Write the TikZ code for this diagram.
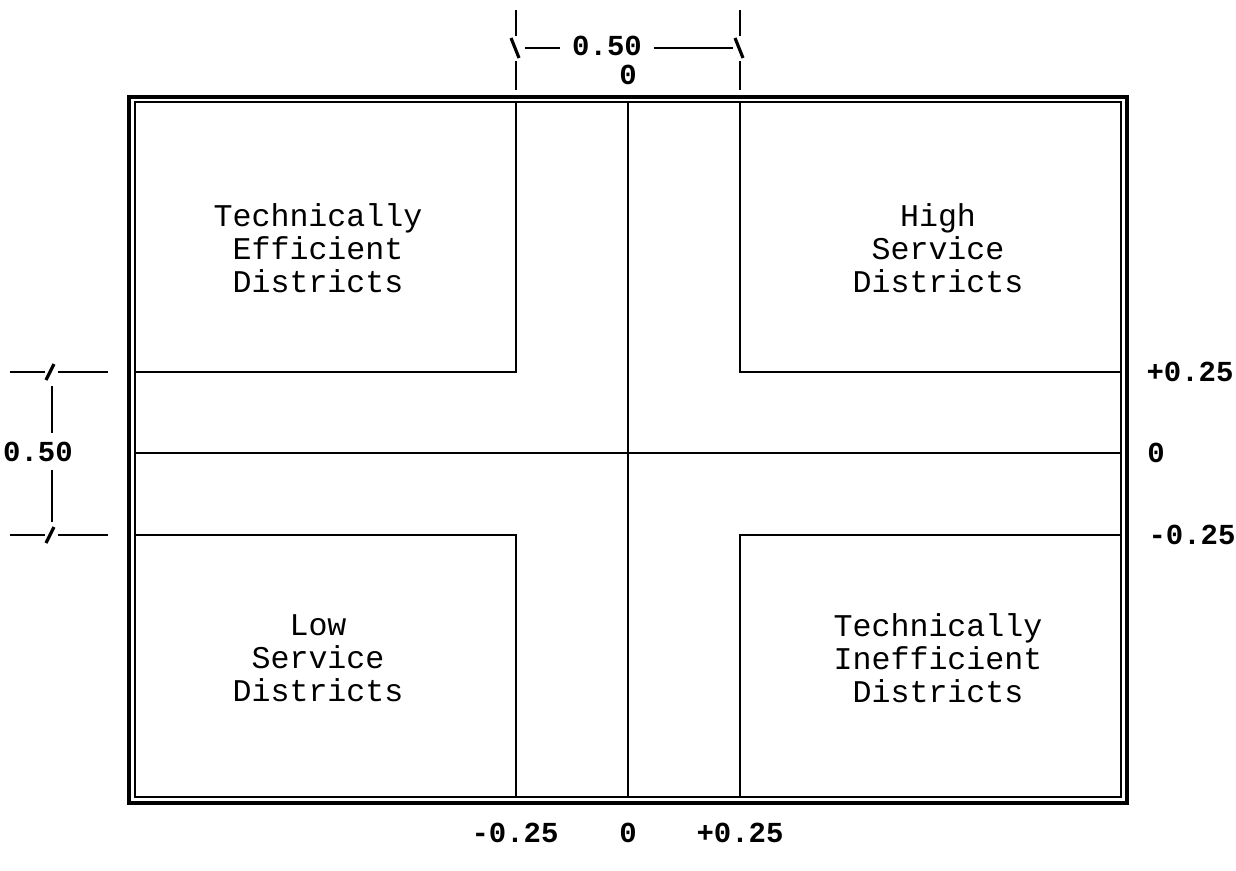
\documentclass[tikz,border=0pt]{standalone}
\usepackage{fontspec}
\setmonofont{Liberation Mono}
\begin{document}
\begin{tikzpicture}[x=0.02cm, y=-0.02cm,
  quadtext/.style={font=\ttfamily\fontsize{18}{18.8}\selectfont, align=center},
  scaletext/.style={font=\ttfamily\bfseries\fontsize{16.5}{18}\selectfont, inner sep=0.5pt}]

\useasboundingbox (0,0) rectangle (1236,870);

% double frame
\draw[black, line width=2.6pt] (129,97) rectangle (1127,803);
\draw[black, line width=1.2pt] (135,102) rectangle (1121,797);

% centre cross
\draw[black, line width=1.3pt] (628,102) -- (628,797);
\draw[black, line width=1.3pt] (135,453) -- (1121,453);

% the four corner boxes
\draw[black, line width=1.3pt] (516,102) -- (516,372) -- (135,372);
\draw[black, line width=1.3pt] (740,102) -- (740,372) -- (1121,372);
\draw[black, line width=1.3pt] (516,797) -- (516,535) -- (135,535);
\draw[black, line width=1.3pt] (740,797) -- (740,535) -- (1121,535);

\node[quadtext] (te) at (318,248) {Technically\\Efficient\\Districts};
\node[quadtext] (hs) at (938,248) {High\\Service\\Districts};
\node[quadtext] (ls) at (318,658) {Low\\Service\\Districts};
\node[quadtext] (ti) at (938,658) {Technically\\Inefficient\\Districts};

% width of the band, above
\draw[black, line width=1.4pt] (516,10) -- (516,36);
\draw[black, line width=1.4pt] (516,61) -- (516,90);
\draw[black, line width=1.8pt] (511,38) -- (519,58);
\draw[black, line width=1.4pt] (740,10) -- (740,36);
\draw[black, line width=1.4pt] (740,61) -- (740,90);
\draw[black, line width=1.8pt] (735,38) -- (743,58);
\node[scaletext] (wtop) at (607,46) {0.50};
\node[scaletext] (ztop) at (628,75) {0};
\draw[black, line width=1.4pt] (525,48) -- ([xshift=-6pt]wtop.west |- 525,48);
\draw[black, line width=1.4pt] ([xshift=6pt]wtop.east |- 525,48) -- (733,48);

% width of the band, left
\draw[black, line width=1.4pt] (10,372) -- (45,372);
\draw[black, line width=1.4pt] (58,372) -- (108,372);
\draw[black, line width=1.8pt] (46,380) -- (54,364);
\draw[black, line width=1.4pt] (10,535) -- (45,535);
\draw[black, line width=1.4pt] (58,535) -- (108,535);
\draw[black, line width=1.8pt] (46,543) -- (54,527);
\node[scaletext] (wleft) at (38,452) {0.50};
\draw[black, line width=1.4pt] (52,386) -- (52,433);
\draw[black, line width=1.4pt] (52,470) -- (52,522);

% scale on the right
\node[scaletext] (rp) at (1190,372) {+0.25};
\node[scaletext] (rz) at (1156,453) {0};
\node[scaletext] (rm) at (1192,535) {-0.25};

% scale below
\node[scaletext] (bm) at (515,833) {-0.25};
\node[scaletext] (bz) at (628,833) {0};
\node[scaletext] (bp) at (740,833) {+0.25};

\end{tikzpicture}
\end{document}
